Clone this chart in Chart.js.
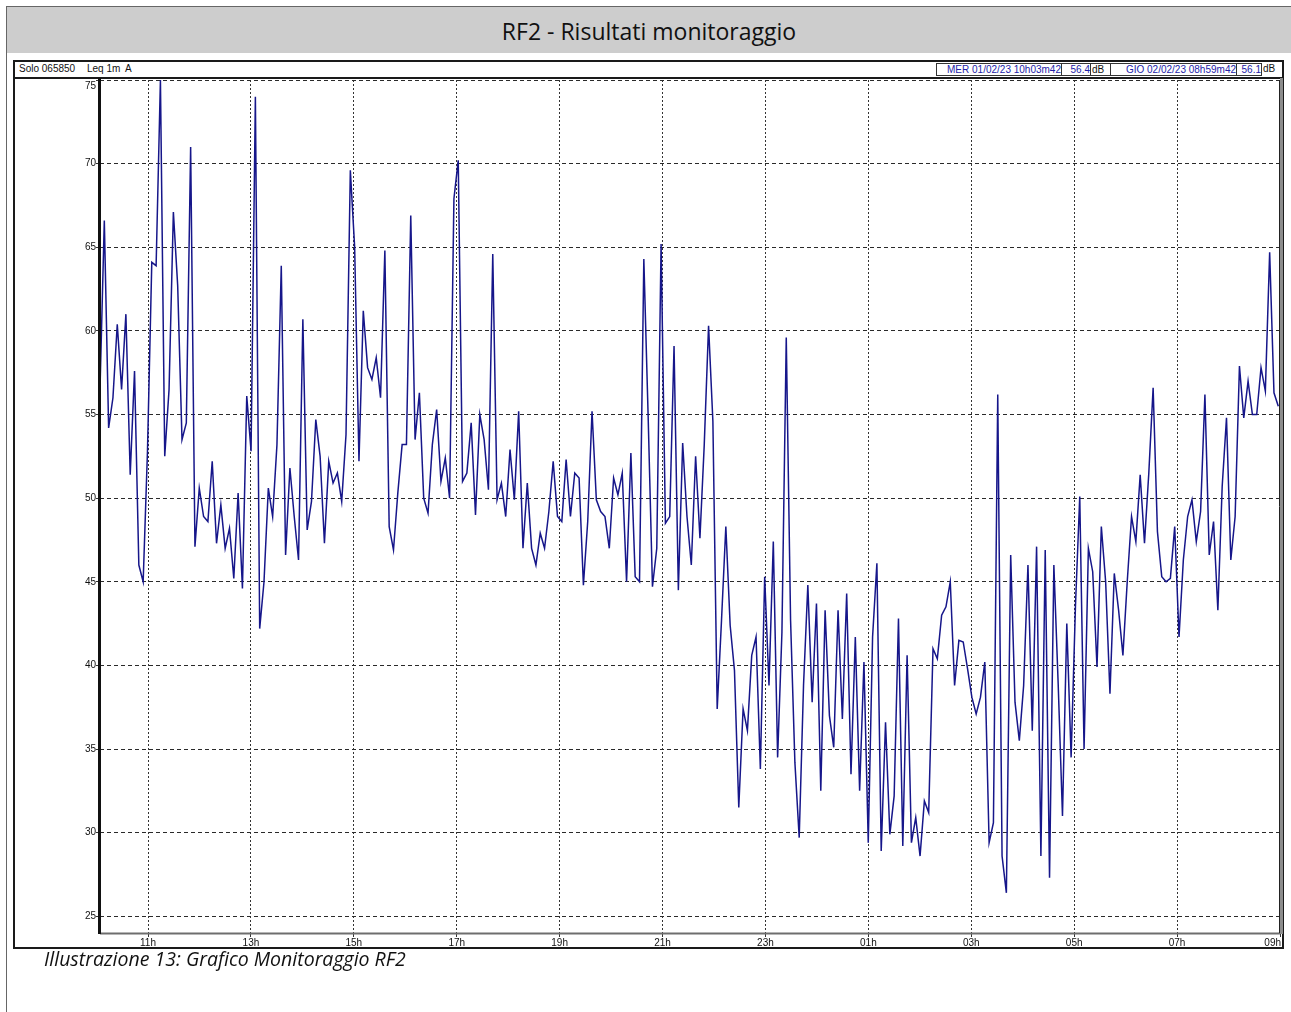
<!DOCTYPE html>
<html>
<head>
<meta charset="utf-8">
<script src="https://cdn.jsdelivr.net/npm/chart.js@4/dist/chart.umd.min.js"></script>
<style>
  html, body { margin: 0; padding: 0; background: #fff; }
  body { width: 1291px; height: 1012px; position: relative; overflow: hidden;
         font-family: "Liberation Sans", Arial, sans-serif; }
  .page { position: absolute; left: 6px; top: 6px; width: 1285px; height: 1006px;
          border-left: 1px solid #666; border-top: 1px solid #666; }
  .band { position: absolute; left: 7px; top: 7px; width: 1284px; height: 46px; background: #cdcdcd;
          text-align: center; font: 23px "Open Sans", sans-serif; line-height: 48px; color: #111; }
  .frame { position: absolute; left: 13px; top: 60px; width: 1271px; height: 889px;
           border: 2px solid #1a1a1a; box-sizing: border-box; }
  .sep { position: absolute; left: 13px; top: 77px; width: 1271px; height: 2px; background: #1a1a1a; }
  .txt { position: absolute; top: 63px; font-size: 10px; line-height: 12px; color: #111; white-space: pre; }
  .box { position: absolute; top: 63px; height: 13px; border: 1px solid #333; box-sizing: border-box;
         font-size: 10px; line-height: 11px; color: #2323a8; text-align: right; white-space: pre; }
  #wrap { position: absolute; left: 14px; top: 78px; width: 1269px; height: 871px; }
  .caption { position: absolute; left: 44px; top: 948px; font: italic 19.5px "Open Sans", sans-serif;
             line-height: 22px; color: #111; }
</style>
</head>
<body>
<div class="page"></div>
<div class="band">RF2 - Risultati monitoraggio</div>
<div class="frame"></div>
<div class="sep"></div>
<div class="txt" style="left:19px">Solo 065850</div>
<div class="txt" style="left:87px">Leq 1m</div>
<div class="txt" style="left:125px">A</div>
<div class="box" style="left:936px;width:126px">MER 01/02/23 10h03m42</div>
<div class="box" style="left:1061px;width:30px">56.4</div>
<div class="box" style="left:1090px;width:21px;color:#111;text-align:left;padding-left:1px">dB</div>
<div class="box" style="left:1110px;width:127px">GIO 02/02/23 08h59m42</div>
<div class="box" style="left:1236px;width:26px">56.1</div>
<div class="txt" style="left:1263px">dB</div>
<div id="wrap"><canvas id="chart" width="1269" height="871"></canvas></div>
<div class="caption">Illustrazione 13: Grafico Monitoraggio RF2</div>

<script>
// time axis in minutes from midnight of the first day (10h04 -> 09h00 next day)
const X_MIN = 604;
const X_MAX = 1980;
const START_MIN = 604;
const SAMPLE_STEP_MIN = 5.033;

const X_TICKS = [660, 780, 900, 1020, 1140, 1260, 1380, 1500, 1620, 1740, 1860, 1980];
const X_LABELS = ['11h', '13h', '15h', '17h', '19h', '21h', '23h', '01h', '03h', '05h', '07h', '09h'];
const Y_TICKS = [25, 30, 35, 40, 45, 50, 55, 60, 65, 70, 75];
const Y_MIN = 24;
const Y_MAX = 75;

// Leq dB(A), every ~5 minutes
const LEQ = [
  56.5, 66.6, 54.2, 56, 60.4, 56.5, 61, 51.4, 57.6, 46,
  45, 52.8, 64.1, 63.9, 75, 52.5, 56.5, 67.1, 62.7, 53.5,
  54.5, 71, 47.1, 50.6, 48.9, 48.6, 52.2, 47.3, 49.6, 47,
  48.2, 45.2, 50.3, 44.6, 56.1, 52.8, 74, 42.2, 45, 50.6,
  48.9, 53.2, 63.9, 46.6, 51.8, 48.9,
  46.3, 60.7, 48.1, 49.8, 54.7, 52.5, 47.3, 52.2, 50.9, 51.5,
  49.8, 53.8, 69.6, 65, 52.2, 61.2, 57.8, 57.1, 58.4, 56,
  64.8, 48.3, 46.9, 50.3, 53.2, 53.2, 66.9, 53.5, 56.3, 50,
  49.1, 53.2, 55.3, 51, 52.4, 50, 67.9, 70.2, 51, 51.5,
  54.5, 49, 55, 53.5, 50.5, 64.6,
  49.9, 50.9, 48.9, 52.9, 49.9, 55.2, 47, 50.9, 47, 46,
  47.9, 47, 49.2, 52.2, 48.9, 48.6, 52.3, 48.9, 51.5, 51.2,
  44.8, 48.6, 55.2, 49.9, 49.2, 48.9, 47, 51.2, 50.2, 51.5,
  45, 52.7, 45.3, 45, 64.3, 54.9, 44.7, 47, 65.2, 48.5,
  48.9, 59.1, 44.5, 53.3, 48.9, 46,
  52.5, 47.6, 53.2, 60.3, 54.6, 37.4, 42.7, 48.3, 42.4, 39.7,
  31.5, 37.4, 36.1, 40.6, 41.7, 33.8, 45.3, 38.8, 47.4, 34.5,
  42, 59.6, 42.7, 34.2, 29.7, 38.8, 44.8, 37.8, 43.7, 32.5,
  43.3, 37, 35.1, 43.3, 36.8, 44.3, 33.5, 41.7, 32.5, 40.2,
  29.4, 41.7, 46.1, 28.9, 36.6, 29.9,
  32.2, 42.8, 29.2, 40.6, 29.4, 30.9, 28.6, 31.9, 31.2, 41,
  40.4, 43, 43.5, 45, 38.8, 41.5, 41.4, 39.8, 38.1, 37.1,
  38.1, 40.2, 29.4, 30.6, 56.2, 28.6, 26.4, 46.6, 37.8, 35.5,
  38.8, 46, 36.1, 47.1, 28.6, 46.9, 27.3, 46, 38.9, 31,
  42.5, 34.5, 43.5, 50.1, 35, 47,
  45.6, 39.9, 48.3, 45, 38.3, 45.5, 43.3, 40.6, 45, 48.9,
  47.4, 51.4, 47.3, 51.5, 56.6, 48, 45.3, 45, 45.2, 48.3,
  41.7, 46.3, 48.9, 49.9, 47.4, 49.2, 56.2, 46.6, 48.6, 43.3,
  50.7, 54.8, 46.3, 48.9, 57.9, 54.8, 57, 55, 55, 57.8,
  56.4, 64.7, 56.3, 55.5
];

let points = LEQ.map((v, i) => ({ x: START_MIN + i * SAMPLE_STEP_MIN, y: v }));

let labelFont = '10px "Liberation Sans", Arial, sans-serif';

// axis frame + tick labels (labels clamped inside the frame like the original)
let frameAndLabels = {
  id: 'frameAndLabels',
  afterDraw: (chart) => {
    let { ctx, chartArea: a, scales } = chart;
    ctx.save();
    ctx.lineWidth = 2;
    ctx.strokeStyle = '#6e6e6e';
    ctx.beginPath();
    ctx.moveTo(a.left, a.bottom + 0.5);
    ctx.lineTo(a.right, a.bottom + 0.5);
    ctx.stroke();
    ctx.lineWidth = 3;
    ctx.strokeStyle = '#8c8c8c';
    ctx.beginPath();
    ctx.moveTo(a.right + 1.5, a.top - 2);
    ctx.lineTo(a.right + 1.5, a.bottom + 1);
    ctx.stroke();
    ctx.lineWidth = 1;
    ctx.strokeStyle = '#222';
    ctx.beginPath();
    ctx.moveTo(a.right - 0.5, a.top);
    ctx.lineTo(a.right - 0.5, a.bottom);
    ctx.stroke();
    ctx.lineWidth = 3;
    ctx.strokeStyle = '#111';
    ctx.beginPath();
    ctx.moveTo(a.left - 0.5, a.top - 2);
    ctx.lineTo(a.left - 0.5, a.bottom + 1);
    ctx.stroke();

    ctx.font = labelFont;
    ctx.fillStyle = '#111';
    ctx.textAlign = 'right';
    ctx.textBaseline = 'middle';
    Y_TICKS.forEach((v) => {
      let py = Math.max(scales.y.getPixelForValue(v), a.top + 6);
      ctx.fillText(String(v), a.left - 4, py);
    });
    ctx.textBaseline = 'top';
    X_TICKS.forEach((v, i) => {
      let px = scales.x.getPixelForValue(v);
      if (px >= a.right - 2) {
        ctx.textAlign = 'right';
        ctx.fillText(X_LABELS[i], px + 1, a.bottom + 5.5);
      } else {
        ctx.textAlign = 'center';
        ctx.fillText(X_LABELS[i], px, a.bottom + 5.5);
      }
    });
    ctx.restore();
  }
};

let ctx = document.getElementById('chart').getContext('2d');

let myChart = new Chart(ctx, {
  type: 'line',
  data: {
    datasets: [{
      data: points,
      borderColor: '#16168a',
      borderWidth: 1.5,
      pointRadius: 0,
      tension: 0,
      fill: false
    }]
  },
  options: {
    responsive: false,
    animation: false,
    devicePixelRatio: 1,
    layout: {
      padding: { top: 2, right: 3, left: 0, bottom: 0 }
    },
    plugins: {
      legend: { display: false },
      tooltip: { enabled: false }
    },
    scales: {
      x: {
        type: 'linear',
        min: X_MIN,
        max: X_MAX,
        afterBuildTicks: (scale) => {
          scale.ticks = X_TICKS.map((v) => ({ value: v }));
        },
        afterFit: (scale) => {
          scale.height = 16;
        },
        ticks: { display: false },
        grid: { color: '#333', lineWidth: 1, tickLength: 4, tickColor: '#333', tickBorderDash: [] },
        border: { display: false, dash: [2, 2] }
      },
      y: {
        min: Y_MIN,
        max: Y_MAX,
        afterBuildTicks: (scale) => {
          scale.ticks = Y_TICKS.map((v) => ({ value: v }));
        },
        afterFit: (scale) => {
          scale.width = 86;
        },
        ticks: { display: false },
        grid: { color: '#2a2a2a', lineWidth: 1, tickLength: 4, tickColor: '#333', tickBorderDash: [] },
        border: { display: false, dash: [4, 3] }
      }
    }
  },
  plugins: [frameAndLabels]
});
</script>
</body>
</html>
